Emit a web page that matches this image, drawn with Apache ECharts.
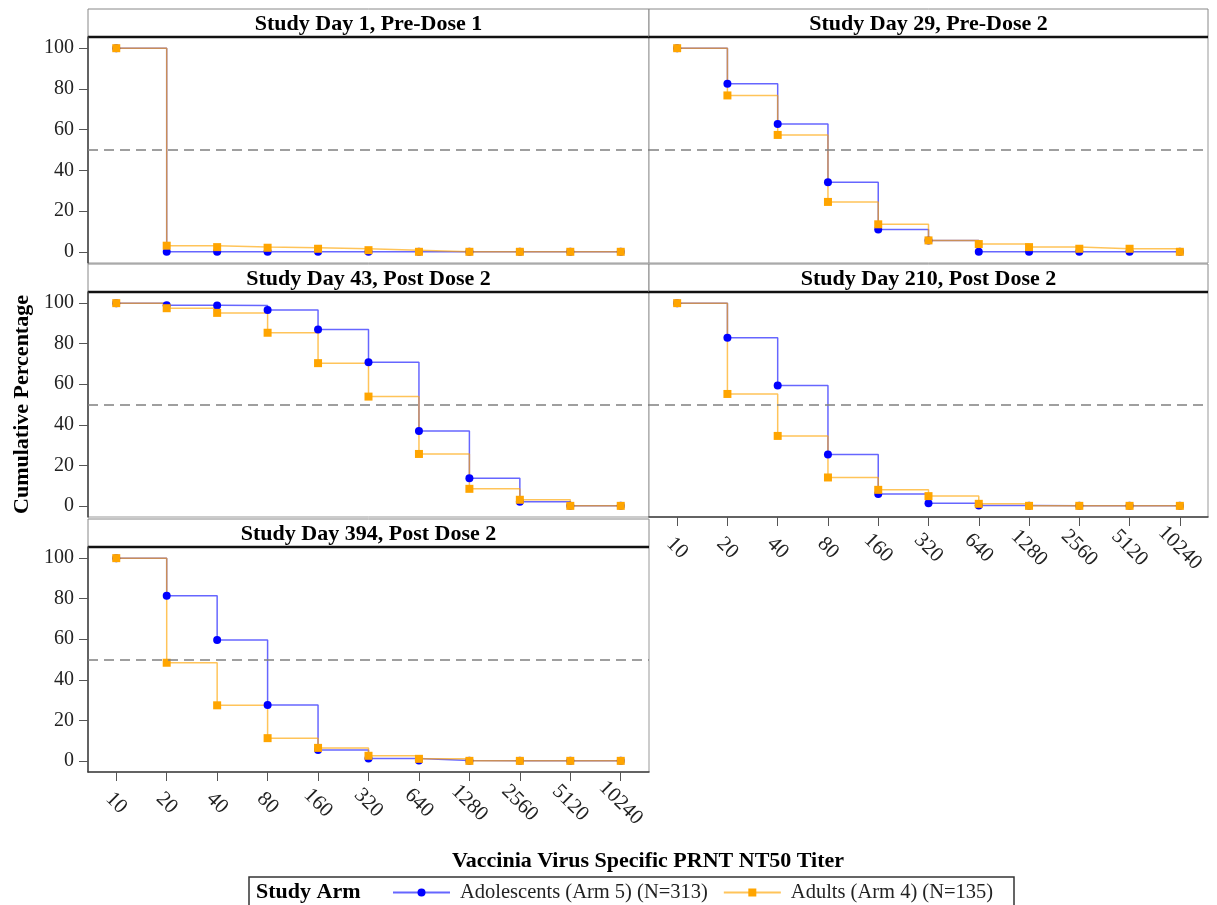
<!DOCTYPE html>
<html>
<head>
<meta charset="utf-8">
<title>Reverse Cumulative Distribution</title>
<script src="https://cdn.jsdelivr.net/npm/echarts@6.0.0/dist/echarts.min.js"></script>
<style>
    html, body { margin: 0; padding: 0; background: #fff; }
    .chart { width: 1217px; height: 905px; }
</style>
</head>
<body>
<div class="chart"></div>
<script>
// 数据
var titers = ['10', '20', '40', '80', '160', '320', '640', '1280', '2560', '5120', '10240'];
var yTicks = [0, 20, 40, 60, 80, 100];
var panelTitles = [
    'Study Day 1, Pre-Dose 1',
    'Study Day 29, Pre-Dose 2',
    'Study Day 43, Post Dose 2',
    'Study Day 210, Post Dose 2',
    'Study Day 394, Post Dose 2'
];
var seriesNames = ['Adolescents (Arm 5) (N=313)', 'Adults (Arm 4) (N=135)'];

var day1Adol = [100, 0, 0, 0, 0, 0, 0, 0, 0, 0, 0];
var day1Adult = [100, 3.0, 2.3, 2.0, 1.5, 0.8, 0, 0, 0, 0, 0];
var day29Adol = [100, 82.6, 62.8, 34.2, 11.0, 5.6, 0, 0, 0, 0, 0];
var day29Adult = [100, 76.8, 57.4, 24.5, 13.5, 5.6, 3.8, 2.3, 1.5, 1.5, 0];
var day43Adol = [100, 99.0, 98.9, 96.6, 87.0, 70.9, 36.9, 13.6, 2.0, 0, 0];
var day43Adult = [100, 97.5, 95.2, 85.4, 70.4, 53.9, 25.6, 8.4, 3.0, 0, 0];
var day210Adol = [100, 82.9, 59.4, 25.3, 5.9, 1.3, 0.2, 0, 0, 0, 0];
var day210Adult = [100, 55.2, 34.5, 14.0, 7.9, 4.8, 1.0, 0, 0, 0, 0];
var day394Adol = [100, 81.4, 59.6, 27.6, 5.3, 1.1, 0.2, 0, 0, 0, 0];
var day394Adult = [100, 48.4, 27.4, 11.2, 6.4, 2.5, 1.0, 0, 0, 0, 0];

var adolData = [day1Adol, day29Adol, day43Adol, day210Adol, day394Adol];
var adultData = [day1Adult, day29Adult, day43Adult, day210Adult, day394Adult];

(function () {
    var myChart = echarts.init(document.querySelector('.chart'));
    var serif = '"Liberation Serif", "DejaVu Serif", serif';

    // 每个面板的位置 (绘图区)
    var panels = [
        { left: 88, top: 37, width: 561, height: 226, yLabels: true, xLabels: false },
        { left: 649, top: 37, width: 559, height: 226, yLabels: false, xLabels: false },
        { left: 88, top: 292, width: 561, height: 225, yLabels: true, xLabels: false },
        { left: 649, top: 292, width: 559, height: 225, yLabels: false, xLabels: true },
        { left: 88, top: 547, width: 561, height: 225, yLabels: true, xLabels: true }
    ];
    var headerH = 28;
    var xIdx = titers.map(function (t, k) { return k; });

    var grid = [], xAxis = [], yAxis = [], series = [], graphic = [];

    panels.forEach(function (p, i) {
        grid.push({
            left: p.left, top: p.top, width: p.width, height: p.height,
            show: true, borderColor: '#999', borderWidth: 1, backgroundColor: '#fff'
        });
        xAxis.push({
            type: 'value', gridIndex: i, min: -0.56, max: 10.56,
            splitLine: { show: false },
            axisLine: { show: p.xLabels, onZero: false, lineStyle: { color: '#404040', width: 1.5 } },
            axisTick: { show: p.xLabels, length: 9, customValues: xIdx, lineStyle: { color: '#555' } },
            axisLabel: {
                show: p.xLabels,
                customValues: xIdx,
                formatter: function (v) { return titers[Math.round(v)]; },
                rotate: -45, align: 'center', verticalAlign: 'middle', margin: 31,
                fontFamily: serif, fontSize: 21, color: '#222'
            }
        });
        yAxis.push({
            type: 'value', gridIndex: i, min: -5.5, max: 105.5,
            splitLine: { show: false },
            axisLine: { show: p.yLabels, onZero: false, lineStyle: { color: '#404040', width: 1.5 } },
            axisTick: { show: p.yLabels, length: 9, customValues: yTicks, lineStyle: { color: '#555' } },
            axisLabel: {
                show: p.yLabels, customValues: yTicks, margin: 14,
                fontFamily: serif, fontSize: 20, color: '#222'
            },
            name: i === 2 ? 'Cumulative Percentage' : '',
            nameLocation: 'middle', nameGap: 55,
            nameTextStyle: { fontFamily: serif, fontSize: 22, fontWeight: 'bold', color: '#000' }
        });

        // 蓝色: 青少年
        series.push({
            name: seriesNames[0], type: 'line', step: 'end',
            xAxisIndex: i, yAxisIndex: i,
            data: adolData[i].map(function (v, k) { return [k, v]; }),
            symbol: 'circle', symbolSize: 8,
            itemStyle: { color: '#0000ff' },
            lineStyle: { color: '#0000ff', width: 1.5, opacity: 0.6 },
            markLine: {
                silent: true, symbol: ['none', 'none'], label: { show: false },
                lineStyle: { color: '#808080', type: [10, 6], width: 1.5 },
                data: [{ yAxis: 50 }]
            },
            animation: false
        });
        // 橙色: 成人
        series.push({
            name: seriesNames[1], type: 'line', step: 'end',
            xAxisIndex: i, yAxisIndex: i,
            data: adultData[i].map(function (v, k) { return [k, v]; }),
            symbol: 'rect', symbolSize: 8,
            itemStyle: { color: '#ffa500' },
            lineStyle: { color: '#ffa500', width: 1.5, opacity: 0.65 },
            animation: false
        });

        // 面板标题框
        graphic.push({
            type: 'rect',
            shape: { x: p.left, y: p.top - headerH, width: p.width, height: headerH },
            style: { fill: '#fff', stroke: '#888', lineWidth: 1 }
        });
        graphic.push({
            type: 'line',
            shape: { x1: p.left, y1: p.top, x2: p.left + p.width, y2: p.top },
            style: { stroke: '#111', lineWidth: 2.5 }
        });
        graphic.push({
            type: 'text', x: p.left + p.width / 2, y: p.top - headerH / 2 + 1,
            style: {
                text: panelTitles[i], fill: '#000', align: 'center', verticalAlign: 'middle',
                font: 'bold 22px ' + serif
            }
        });
    });

    // x轴标题
    graphic.push({
        type: 'text', x: 648, y: 861,
        style: {
            text: 'Vaccinia Virus Specific PRNT NT50 Titer', fill: '#000',
            align: 'center', verticalAlign: 'middle', font: 'bold 22px ' + serif
        }
    });
    // 图例框
    graphic.push({
        type: 'rect', z: -1,
        shape: { x: 249, y: 877, width: 765, height: 40 },
        style: { fill: '#fff', stroke: '#333', lineWidth: 1.5 }
    });
    graphic.push({
        type: 'text', x: 256, y: 892,
        style: { text: 'Study Arm', fill: '#000', verticalAlign: 'middle', font: 'bold 22px ' + serif }
    });

    var option = {
        backgroundColor: '#fff',
        animation: false,
        grid: grid,
        xAxis: xAxis,
        yAxis: yAxis,
        legend: {
            data: seriesNames,
            left: 392, top: 882, padding: 0,
            itemWidth: 57, itemHeight: 10, itemGap: 15,
            textStyle: { fontFamily: serif, fontSize: 20.5, color: '#222', padding: [0, 0, 0, 5] }
        },
        graphic: graphic,
        series: series
    };

    myChart.setOption(option);
    window.addEventListener('resize', function () {
        myChart.resize();
    });
})();
</script>
</body>
</html>
